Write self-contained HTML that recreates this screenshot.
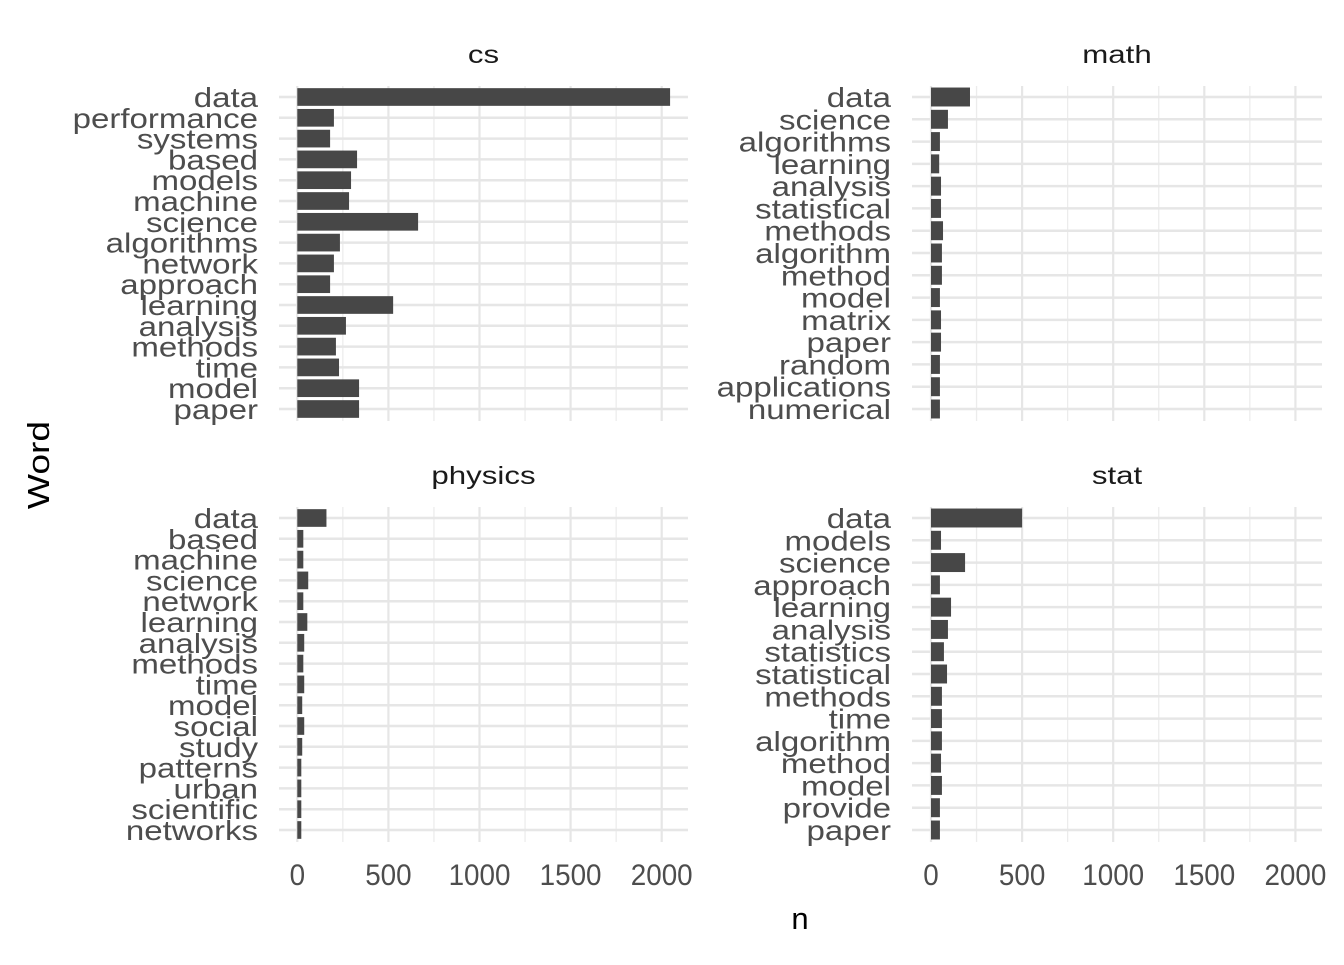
<!DOCTYPE html>
<html><head><meta charset="utf-8"><style>
body{margin:0;background:#fff}
text{font-family:"Liberation Sans",sans-serif}
</style></head><body>
<svg id="c" width="1344" height="960" xmlns="http://www.w3.org/2000/svg"></svg>
<script>
const csWords=["data","performance","systems","based","models","machine","science","algorithms","network","approach","learning","analysis","methods","time","model","paper"];
const csValues=[2046,201,180,328,295,284,663,234,201,180,526,267,212,229,339,339];
const mathWords=["data","science","algorithms","learning","analysis","statistical","methods","algorithm","method","model","matrix","paper","random","applications","numerical"];
const mathValues=[214,93,49,45,55,55,66,60,60,49,55,55,49,49,49];
const physWords=["data","based","machine","science","network","learning","analysis","methods","time","model","social","study","patterns","urban","scientific","networks"];
const physValues=[160,33,33,60,33,55,38,33,38,27,38,27,22,22,22,22];
const statWords=["data","models","science","approach","learning","analysis","statistics","statistical","methods","time","algorithm","method","model","provide","paper"];
const statValues=[500,55,187,49,110,93,71,88,60,60,60,55,60,49,49];
const xTicks=[0,500,1000,1500,2000];
const xTickLabels=["0","500","1000","1500","2000"];
const panelNames=["cs","math","physics","stat"];

const svg=document.getElementById('c');
const NS="http://www.w3.org/2000/svg";
function mk(t,a,p){const e=document.createElementNS(NS,t);for(const k in a)e.setAttribute(k,a[k]);(p||svg).appendChild(e);return e;}
const panels=[
 {x0:279,x1:688,zero:297.3,y0:86,y1:421,words:csWords,vals:csValues},
 {x0:912,x1:1322,zero:931,y0:86,y1:421,words:mathWords,vals:mathValues},
 {x0:279,x1:688,zero:297.3,y0:507,y1:842,words:physWords,vals:physValues},
 {x0:912,x1:1322,zero:931,y0:507,y1:842,words:statWords,vals:statValues}
];
const scale=0.1822;
panels.forEach((p,pi)=>{
  const g=mk('g',{});
  
  
  const xs=v=>p.zero+v*scale;
  const n=p.words.length;
  const top=p.y0+11, bot=p.y1-12;
  const step=(bot-top)/(n-1);
  const ys=i=>top+i*step;
  for(let v=250;v<=2250;v+=500){const x=xs(v);if(x<p.x1)mk('line',{x1:x,x2:x,y1:p.y0,y2:p.y1,stroke:'#ececec','stroke-width':1.3},g);}
  xTicks.forEach(v=>{const x=xs(v);mk('line',{x1:x,x2:x,y1:p.y0,y2:p.y1,stroke:'#e6e6e6','stroke-width':2.2},g);});
  for(let i=0;i<n;i++){const y=ys(i);mk('line',{x1:p.x0,x2:p.x1,y1:y,y2:y,stroke:'#e6e6e6','stroke-width':2.5},g);}
  const bh=step*0.85;
  p.vals.forEach((v,i)=>{
    const r=mk('rect',{x:xs(0),y:ys(i)-bh/2,width:xs(v)-xs(0),height:bh,fill:'#474747'},g);
    
    
  });
  p.words.forEach((w,i)=>{
    const t=mk('text',{x:0,y:0,transform:'translate('+(p.x0-21)+','+(ys(i)+10)+') scale(1.18,1)','text-anchor':'end','font-size':28,fill:'#4d4d4d'},g);
    t.textContent=w;
    
    
  });
  const s=mk('text',{x:0,y:0,transform:'translate('+((p.x0+p.x1)/2)+','+(p.y0-23)+') scale(1.25,1)','text-anchor':'middle','font-size':25,fill:'#1a1a1a'},g);
  s.textContent=panelNames[pi];
  
  
  if(pi>=2){xTicks.forEach((v,k)=>{
    const t=mk('text',{x:0,y:0,transform:'translate('+xs(v)+',885) scale(1.03,1.1)','text-anchor':'middle','font-size':27,fill:'#4d4d4d'},g);
    t.textContent=xTickLabels[k];
    
    
  });}
});
const xt=mk('text',{x:800,y:929,'text-anchor':'middle','font-size':31,fill:'#000'});
xt.textContent='n';


const yt=mk('text',{x:0,y:0,'text-anchor':'middle','font-size':31,fill:'#000',transform:'translate(49,465) rotate(-90) scale(1.2,1)'});
yt.textContent='Word';


</script>
</body></html>
